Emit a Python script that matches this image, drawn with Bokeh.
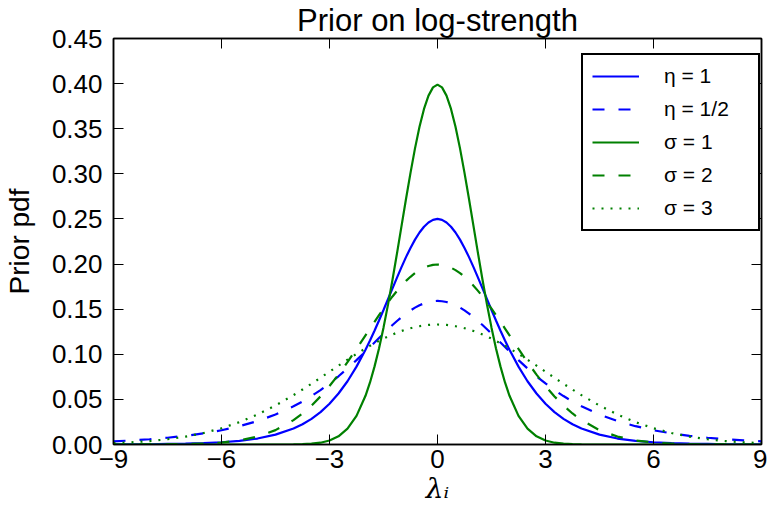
from bokeh.plotting import figure
from bokeh.models import FixedTicker, LinearAxis, Legend, LegendItem, Range1d
from bokeh.embed import file_html
from bokeh.resources import INLINE

# ---- data ----
lam = [-9, -8.5, -8, -7.5, -7, -6.5, -6, -5.5, -5, -4.5,
       -4, -3.75, -3.5, -3.25, -3, -2.75, -2.5, -2.25,
       -2, -1.875, -1.75, -1.625, -1.5, -1.375, -1.25, -1.125, -1, -0.875, -0.75, -0.625, -0.5, -0.375, -0.25, -0.125,
       0, 0.125, 0.25, 0.375, 0.5, 0.625, 0.75, 0.875, 1, 1.125, 1.25, 1.375, 1.5, 1.625, 1.75, 1.875, 2,
       2.25, 2.5, 2.75, 3, 3.25, 3.5, 3.75, 4,
       4.5, 5, 5.5, 6, 6.5, 7, 7.5, 8, 8.5, 9]

eta_1 = [0.0001, 0.0002, 0.0003, 0.0006, 0.0009, 0.0015, 0.0025, 0.0041, 0.0066, 0.0109,
         0.0177, 0.0224, 0.0284, 0.0359, 0.0452, 0.0565, 0.0701, 0.0863,
         0.1050, 0.1153, 0.1261, 0.1375, 0.1491, 0.1611, 0.1731, 0.1850, 0.1966, 0.2077, 0.2179, 0.2271, 0.2350, 0.2414, 0.2461, 0.2490,
         0.2500, 0.2490, 0.2461, 0.2414, 0.2350, 0.2271, 0.2179, 0.2077, 0.1966, 0.1850, 0.1731, 0.1611, 0.1491, 0.1375, 0.1261, 0.1153, 0.1050,
         0.0863, 0.0701, 0.0565, 0.0452, 0.0359, 0.0284, 0.0224, 0.0177,
         0.0109, 0.0066, 0.0041, 0.0025, 0.0015, 0.0009, 0.0006, 0.0003, 0.0002, 0.0001]

eta_half = [0.0035, 0.0045, 0.0058, 0.0075, 0.0096, 0.0123, 0.0158, 0.0203, 0.0260, 0.0332,
            0.0423, 0.0477, 0.0537, 0.0603, 0.0677, 0.0756, 0.0843, 0.0935,
            0.1031, 0.1081, 0.1130, 0.1180, 0.1229, 0.1278, 0.1324, 0.1369, 0.1411, 0.1451, 0.1486, 0.1517, 0.1543, 0.1564, 0.1579, 0.1588,
            0.1592, 0.1588, 0.1579, 0.1564, 0.1543, 0.1517, 0.1486, 0.1451, 0.1411, 0.1369, 0.1324, 0.1278, 0.1229, 0.1180, 0.1130, 0.1081, 0.1031,
            0.0935, 0.0843, 0.0756, 0.0677, 0.0603, 0.0537, 0.0477, 0.0423,
            0.0332, 0.0260, 0.0203, 0.0158, 0.0123, 0.0096, 0.0075, 0.0058, 0.0045, 0.0035]

sigma_1 = [0, 0, 0, 0, 0, 0, 0, 0, 0, 0,
           0.0001, 0.0004, 0.0009, 0.0020, 0.0044, 0.0091, 0.0175, 0.0317,
           0.0540, 0.0688, 0.0863, 0.1065, 0.1295, 0.1550, 0.1826, 0.2119, 0.2420, 0.2721, 0.3011, 0.3282, 0.3521, 0.3719, 0.3867, 0.3958,
           0.3989, 0.3958, 0.3867, 0.3719, 0.3521, 0.3282, 0.3011, 0.2721, 0.2420, 0.2119, 0.1826, 0.1550, 0.1295, 0.1065, 0.0863, 0.0688, 0.0540,
           0.0317, 0.0175, 0.0091, 0.0044, 0.0020, 0.0009, 0.0004, 0.0001,
           0, 0, 0, 0, 0, 0, 0, 0, 0, 0]

sigma_2 = [0.0000, 0.0000, 0.0001, 0.0002, 0.0004, 0.0010, 0.0022, 0.0045, 0.0088, 0.0159,
           0.0270, 0.0344, 0.0431, 0.0533, 0.0648, 0.0775, 0.0913, 0.1059,
           0.1210, 0.1285, 0.1360, 0.1434, 0.1506, 0.1575, 0.1641, 0.1703, 0.1760, 0.1813, 0.1859, 0.1900, 0.1933, 0.1960, 0.1979, 0.1991,
           0.1995, 0.1991, 0.1979, 0.1960, 0.1933, 0.1900, 0.1859, 0.1813, 0.1760, 0.1703, 0.1641, 0.1575, 0.1506, 0.1434, 0.1360, 0.1285, 0.1210,
           0.1059, 0.0913, 0.0775, 0.0648, 0.0533, 0.0431, 0.0344, 0.0270,
           0.0159, 0.0088, 0.0045, 0.0022, 0.0010, 0.0004, 0.0002, 0.0001, 0.0000, 0.0000]

sigma_3 = [0.0015, 0.0024, 0.0038, 0.0058, 0.0087, 0.0127, 0.0180, 0.0248, 0.0332, 0.0432,
           0.0547, 0.0609, 0.0673, 0.0740, 0.0807, 0.0874, 0.0940, 0.1004,
           0.1065, 0.1094, 0.1122, 0.1148, 0.1174, 0.1197, 0.1219, 0.1240, 0.1258, 0.1274, 0.1289, 0.1301, 0.1311, 0.1319, 0.1325, 0.1329,
           0.1330, 0.1329, 0.1325, 0.1319, 0.1311, 0.1301, 0.1289, 0.1274, 0.1258, 0.1240, 0.1219, 0.1197, 0.1174, 0.1148, 0.1122, 0.1094, 0.1065,
           0.1004, 0.0940, 0.0874, 0.0807, 0.0740, 0.0673, 0.0609, 0.0547,
           0.0432, 0.0332, 0.0248, 0.0180, 0.0127, 0.0087, 0.0058, 0.0038, 0.0024, 0.0015]

series_labels = ["η = 1", "η = 1/2", "σ = 1", "σ = 2", "σ = 3"]

x_ticks = [-9, -6, -3, 0, 3, 6, 9]
x_tick_labels = ["−9", "−6", "−3", "0", "3", "6", "9"]
y_ticks = [0.0, 0.05, 0.1, 0.15, 0.2, 0.25, 0.3, 0.35, 0.4, 0.45]
y_tick_labels = ["0.00", "0.05", "0.10", "0.15", "0.20", "0.25", "0.30", "0.35", "0.40", "0.45"]

SANS = "Liberation Sans"
BLUE = "#0000ff"
GREEN = "#008000"

p = figure(frame_width=648, frame_height=406, output_backend="svg", toolbar_location=None,
           x_range=Range1d(-9, 9), y_range=Range1d(0, 0.45),
           min_border_left=109, min_border_right=6, min_border_top=35, min_border_bottom=59,
           background_fill_color="white", border_fill_color="white")

p.title.text = "Prior on log-strength"
p.title.align = "center"
p.title.text_font = SANS
p.title.text_font_size = "31px"
p.title.text_font_style = "normal"
p.title.text_color = "black"
p.title.text_line_height = 1.0
p.title.standoff = 1

p.grid.visible = False
p.outline_line_color = "black"
p.outline_line_width = 1.5
p.outline_line_alpha = 1.0

def style_axis(ax, ticks, labels, show_labels):
    ax.ticker = FixedTicker(ticks=ticks)
    ax.minor_tick_line_color = None
    ax.major_tick_in = 10
    ax.major_tick_out = 0
    ax.major_tick_line_width = 1
    ax.major_tick_line_color = "black"
    ax.axis_line_width = 1.5
    ax.axis_line_color = "black"
    ax.major_label_text_font = SANS
    ax.major_label_text_line_height = 1.0
    if show_labels:
        ax.major_label_overrides = dict(zip(ticks, labels))
        ax.major_label_text_font_size = "26px"
        ax.major_label_text_color = "black"
    else:
        ax.major_label_overrides = {t: "" for t in ticks}
        ax.major_label_text_font_size = "1px"
        ax.major_label_standoff = 0

xa = p.xaxis[0]
ya = p.yaxis[0]
style_axis(xa, x_ticks, x_tick_labels, True)
style_axis(ya, y_ticks, y_tick_labels, True)
xa.major_label_standoff = 5
ya.major_label_standoff = 11

xa.axis_label = "λᵢ"
xa.axis_label_text_font = "DejaVu Serif"
xa.axis_label_text_font_style = "italic"
xa.axis_label_text_font_size = "28px"
xa.axis_label_text_color = "black"
xa.axis_label_text_line_height = 1.0
xa.axis_label_standoff = 1

ya.axis_label = "Prior pdf"
ya.axis_label_text_font = SANS
ya.axis_label_text_font_style = "normal"
ya.axis_label_text_font_size = "28px"
ya.axis_label_text_color = "black"
ya.axis_label_text_line_height = 1.0
ya.axis_label_standoff = 14

top = LinearAxis()
style_axis(top, x_ticks, x_tick_labels, False)
p.add_layout(top, "above")
right = LinearAxis()
style_axis(right, y_ticks, y_tick_labels, False)
p.add_layout(right, "right")

LW = 2.2
r1 = p.line(lam, eta_1, line_color=BLUE, line_width=LW)
r2 = p.line(lam, eta_half, line_color=BLUE, line_width=LW, line_dash="12 14")
r3 = p.line(lam, sigma_1, line_color=GREEN, line_width=LW)
r4 = p.line(lam, sigma_2, line_color=GREEN, line_width=LW, line_dash="12 14")
r5 = p.line(lam, sigma_3, line_color=GREEN, line_width=LW, line_dash="2 7")

renderers = [r1, r2, r3, r4, r5]
legend = Legend(items=[LegendItem(label=l, renderers=[r]) for l, r in zip(series_labels, renderers)],
                location=(468, 213), margin=0, padding=9, spacing=9,
                glyph_width=47, glyph_height=24, label_height=24, label_width=85, label_standoff=25,
                label_text_font=SANS, label_text_font_size="21px", label_text_color="black",
                border_line_color="black", border_line_width=2, border_line_alpha=1.0,
                background_fill_color="white", background_fill_alpha=1.0)
p.add_layout(legend)

open("out.html", "w").write(file_html(p, INLINE))
